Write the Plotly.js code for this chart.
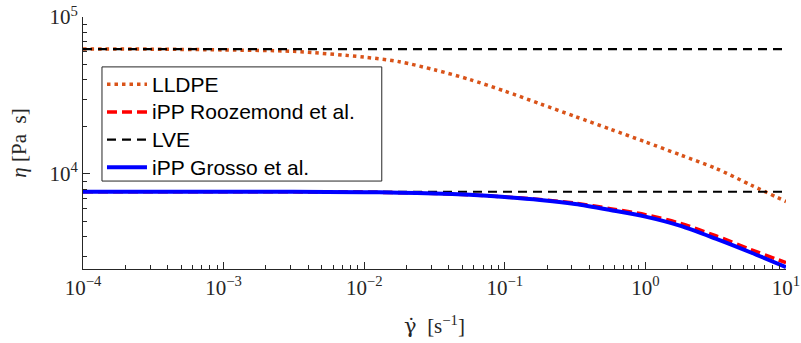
<!DOCTYPE html>
<html>
<head>
<meta charset="utf-8">
<script src="https://cdn.plot.ly/plotly-3.0.1.min.js"></script>
<style>html,body{margin:0;padding:0;background:#fff;}#chart{width:801px;height:343px;}</style>
</head>
<body>
<div id="chart"></div>
<script>
// shear rate samples [1/s]
const shearRate = [1e-4, 3.16e-4, 1e-3, 3.16e-3, 1e-2, 1.78e-2, 3.16e-2, 5.62e-2, 0.1, 0.178, 0.316, 0.562, 1, 1.78, 3.16, 5.62, 10];
// viscosities [Pa s]
const lldpe     = [62500, 62400, 61700, 60400, 55500, 51900, 46100, 40000, 33700, 28000, 23250, 19300, 16000, 13200, 10860, 8510, 6670];
const roozemond = [7700, 7700, 7695, 7690, 7660, 7600, 7520, 7360, 7140, 6880, 6520, 6010, 5500, 4840, 4040, 3300, 2720];
const grosso    = [7700, 7700, 7695, 7690, 7660, 7600, 7520, 7360, 7130, 6830, 6430, 5890, 5350, 4670, 3870, 3160, 2550];
// linear viscoelastic zero-shear plateaus
const lveLevels = [62500, 7700];
const lveRange  = [1e-4, 10];
// legend names
const names = ['LLDPE', 'iPP Roozemond et al.', 'LVE', 'iPP Grosso et al.'];
// tick labels
const xTickVals = [1e-4, 1e-3, 1e-2, 1e-1, 1, 10];
const xTickText = ['10<sup>−4</sup>', '10<sup>−3</sup>', '10<sup>−2</sup>', '10<sup>−1</sup>', '10<sup>0</sup>', '10<sup>1</sup>'];
const yTickVals = [1e4, 1e5];
const yTickText = ['10<sup>4</sup>', '10<sup>5</sup>'];

const lveX = [], lveY = [];
lveLevels.forEach((v, i) => {
  if (i > 0) { lveX.push(null); lveY.push(null); }
  lveX.push(lveRange[0], lveRange[1]);
  lveY.push(v, v);
});

const big = s => '<span style="font-size:21px">' + s + '</span>';
const traces = [
  {x: shearRate, y: lldpe, name: big(names[0]), mode: 'lines', line: {color: '#D95319', width: 3.5, dash: '3.5px,4px', shape: 'spline', smoothing: 0.8}},
  {x: shearRate, y: roozemond, name: big(names[1]), mode: 'lines', line: {color: '#ff0000', width: 3.5, dash: '10px,5px', shape: 'spline', smoothing: 0.8}},
  {x: lveX, y: lveY, name: big(names[2]), mode: 'lines', line: {color: '#000000', width: 2.2, dash: '9px,6px'}},
  {x: shearRate, y: grosso, name: big(names[3]), mode: 'lines', line: {color: '#0000ff', width: 4, shape: 'spline', smoothing: 0.8}}
];

const serif = 'Liberation Serif, DejaVu Serif, serif';
const layout = {
  width: 801, height: 343,
  margin: {l: 83, r: 15, t: 17, b: 74},
  paper_bgcolor: '#fff', plot_bgcolor: '#fff',
  showlegend: true,
  legend: {
    x: 0.027, y: 0.808, xanchor: 'left', yanchor: 'top',
    bgcolor: 'rgba(0,0,0,0)', borderwidth: 0,
    font: {family: 'Liberation Sans, Arial, sans-serif', size: 19, color: '#000'},
    tracegroupgap: 0, itemwidth: 40
  },
  shapes: [{
    type: 'rect', xref: 'paper', yref: 'paper', layer: 'above',
    x0: 0.027, x1: 0.425, y0: 0.349, y1: 0.802,
    line: {color: '#262626', width: 1}, fillcolor: '#ffffff'
  }],
  xaxis: {
    type: 'log', range: [-4, 1],
    tickvals: xTickVals, ticktext: xTickText,
    ticks: 'inside', ticklen: 7, tickcolor: '#262626',
    minor: {ticks: 'inside', ticklen: 4, dtick: 'D1', tickcolor: '#262626', showgrid: false},
    showline: true, linecolor: '#262626', linewidth: 1, mirror: false,
    showgrid: false, zeroline: false,
    tickfont: {family: serif, size: 21, color: '#262626'},
    title: {text: '<span style="font-family:DejaVu Serif">γ̇</span>  [s<sup>−1</sup>]', font: {family: serif, size: 21, color: '#262626'}, standoff: 19}
  },
  yaxis: {
    type: 'log', range: [Math.log10(2480), 5],
    tickvals: yTickVals, ticktext: yTickText,
    ticks: 'inside', ticklen: 7, tickcolor: '#262626',
    minor: {ticks: 'inside', ticklen: 4, dtick: 'D1', tickcolor: '#262626', showgrid: false},
    showline: true, linecolor: '#262626', linewidth: 1, mirror: false,
    showgrid: false, zeroline: false,
    tickfont: {family: serif, size: 21, color: '#262626'},
    title: {text: '<i>η</i> [Pa  s]', font: {family: serif, size: 21, color: '#262626'}, standoff: 17}
  }
};

Plotly.newPlot('chart', traces, layout, {staticPlot: true, displayModeBar: false});
</script>
</body>
</html>
